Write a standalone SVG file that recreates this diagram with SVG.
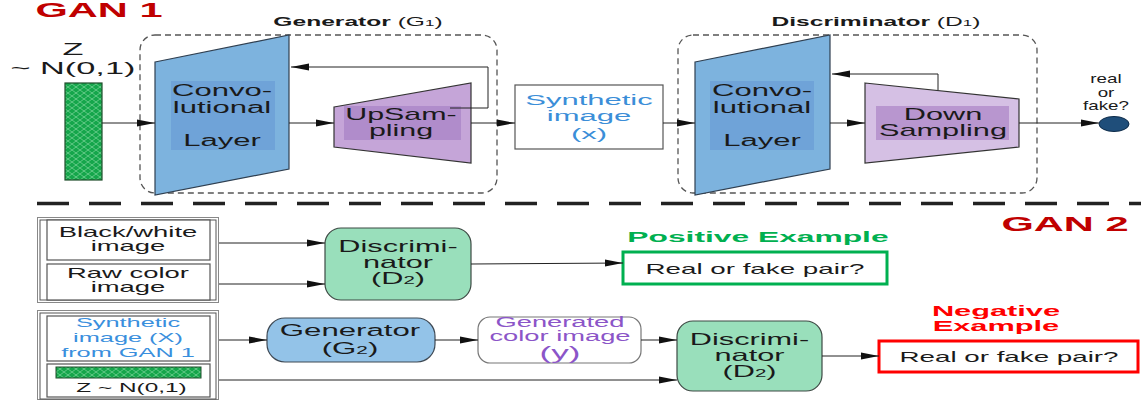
<svg xmlns="http://www.w3.org/2000/svg" width="1141" height="400" viewBox="0 0 1141 400">
<defs>
<style>
text{font-family:"Liberation Sans",Arial,sans-serif;fill:#1a1a1a;text-anchor:middle}
.b{font-weight:bold}
.title{font-size:20px;font-weight:bold;fill:#c00000}
.lbl{font-size:16px}
.sm{font-size:14px}
.dash{fill:none;stroke:#555;stroke-width:1.3;stroke-dasharray:6 4}
.conv{fill:#7db3de;stroke:#2f3f50;stroke-width:1.2}
.convin{fill:#6fa3d8}
.box{fill:#fff;stroke:#555;stroke-width:1.2}
.disc{fill:#99dfbb;stroke:#3d4a44;stroke-width:1.2}
.wire{fill:none;stroke:#222;stroke-width:1;marker-end:url(#ah)}
</style>
<marker id="ah" markerUnits="userSpaceOnUse" markerWidth="18" markerHeight="8" refX="18" refY="4" orient="auto">
<path d="M0,0.5 L18,4 L0,7.5 Z" fill="#111"/>
</marker>
<pattern id="mesh" width="8" height="6" patternUnits="userSpaceOnUse">
<rect width="8" height="6" fill="#15a64b"/>
<path d="M0,0 L8,6 M0,6 L8,0" stroke="#b9efc9" stroke-width="0.6" opacity="0.75"/>
</pattern>
</defs>

<!-- titles -->
<g id="title-gan1"><g transform="matrix(2.08 0 0 1 -106.9 0)"><text x="99" y="17" class="title">GAN 1</text></g></g>
<g id="title-gan2"><g transform="matrix(2.08 0 0 1 -1150.2 0)"><text x="1065" y="231" class="title">GAN 2</text></g></g>

<!-- dashed group boxes -->
<g id="generator-g1">
<rect x="140" y="35" width="357" height="158" rx="15" class="dash"/>
<g transform="matrix(2 0 0 1 -358 0)"><text x="358" y="26" style="font-size:12.3px"><tspan class="b">Generator</tspan> (G<tspan style="font-size:8.5px">1</tspan>)</text></g>
</g>
<g id="discriminator-d1">
<rect x="678" y="35" width="359" height="158" rx="15" class="dash"/>
<g transform="matrix(2 0 0 1 -876 0)"><text x="876" y="26" style="font-size:12.3px"><tspan class="b">Discriminator</tspan> (D<tspan style="font-size:8.5px">1</tspan>)</text></g>
</g>

<!-- noise input -->
<g id="noise-z">
<g transform="matrix(2.02 0 0 1 -74.5 0)">
<text x="73" y="55" style="font-size:17px">Z</text>
<text x="73" y="74" style="font-size:17px">~ N(0,1)</text>
</g>
<rect x="65" y="83" width="37" height="97" fill="url(#mesh)" stroke="#1e4d2b" stroke-width="1.2"/>
</g>

<!-- G1 conv layer -->
<g id="g1-conv">
<polygon points="155,62 289,35 289,169 155,195" class="conv"/>
<rect x="171" y="81" width="104" height="69" class="convin"/>
<g transform="matrix(1.94 0 0 1 -208.68 0)">
<text x="222" y="96" class="lbl">Convo-</text>
<text x="222" y="113" class="lbl">lutional</text>
<text x="222" y="146" class="lbl">Layer</text>
</g>
</g>

<!-- G1 upsampling -->
<g id="g1-upsampling">
<polygon points="334,107 471,83 471,163 334,147" fill="#c5a5d8" stroke="#333" stroke-width="1.2"/>
<rect x="344" y="106" width="117" height="34" fill="#b08ccb"/>
<g transform="matrix(1.9 0 0 1 -360.9 0)">
<text x="401" y="120" class="lbl">UpSam-</text>
<text x="401" y="136" class="lbl">pling</text>
</g>
</g>

<!-- synthetic image -->
<g id="synthetic-image">
<rect x="515" y="85" width="148" height="64" class="box"/>
<g transform="matrix(2 0 0 1 -589 0)" style="font-size:15.5px">
<text x="589" y="105" style="fill:#3b8ed8">Synthetic</text>
<text x="589" y="121" style="fill:#3b8ed8">image</text>
<text x="589" y="139" style="fill:#3b8ed8">(x)</text>
</g>
</g>

<!-- D1 conv layer -->
<g id="d1-conv">
<polygon points="695,62 830,35 830,169 695,195" class="conv"/>
<rect x="710" y="81" width="104" height="69" class="convin"/>
<g transform="matrix(1.94 0 0 1 -716.28 0)">
<text x="762" y="96" class="lbl">Convo-</text>
<text x="762" y="113" class="lbl">lutional</text>
<text x="762" y="146" class="lbl">Layer</text>
</g>
</g>

<!-- D1 downsampling -->
<g id="d1-downsampling">
<polygon points="865,83 1019,99 1019,147 865,163" fill="#d5c0e4" stroke="#333" stroke-width="1.2"/>
<rect x="876" y="106" width="133" height="34" fill="#b896cf"/>
<g transform="matrix(1.92 0 0 1 -867.56 0)">
<text x="943" y="120" class="lbl">Down</text>
<text x="943" y="136" class="lbl">Sampling</text>
</g>
</g>

<!-- output -->
<g id="output-real-fake">
<ellipse cx="1114" cy="124" rx="15" ry="7.5" fill="#1f4e7a" stroke="#0c2a48" stroke-width="1"/>
<g transform="matrix(1.5 0 0 1 -553 0)" style="font-size:12.5px">
<text x="1106" y="83">real</text>
<text x="1106" y="97">or</text>
<text x="1106" y="110">fake?</text>
</g>
</g>

<!-- separator -->
<g id="separator">
<path d="M37,203.5 H1141" stroke="#222" stroke-width="3.5" stroke-dasharray="32 20" fill="none"/>
</g>

<!-- GAN2 positive input pair -->
<g id="input-pair-positive">
<rect x="37.5" y="217.5" width="181" height="85" fill="#fff" stroke="#888" stroke-width="1"/>
<rect x="40" y="220" width="176" height="80" fill="none" stroke="#555" stroke-width="1"/>
<rect x="47" y="220" width="163" height="40" class="box"/>
<rect x="47" y="264" width="163" height="36" class="box"/>
<g transform="matrix(1.96 0 0 1 -122.88 0)">
<text x="128" y="237" class="sm">Black/white</text>
<text x="128" y="251" class="sm">image</text>
<text x="128" y="278" class="sm">Raw color</text>
<text x="128" y="292" class="sm">image</text>
</g>
</g>

<g id="discriminator-d2-positive">
<rect x="325" y="228" width="146" height="72" rx="16" class="disc"/>
<g transform="matrix(1.86 0 0 1 -342.28 0)" style="font-size:16.5px">
<text x="398" y="252">Discrimi-</text>
<text x="398" y="268">nator</text>
<text x="398" y="284">(D<tspan style="font-size:11px">2</tspan>)</text>
</g>
</g>

<g id="positive-result">
<g transform="matrix(2.05 0 0 1 -797.95 0)"><text x="759" y="242" class="b" style="font-size:15.5px;fill:#00b050">Positive Example</text></g>
<rect x="623" y="252" width="264" height="32" fill="#fff" stroke="#00b050" stroke-width="3"/>
<g transform="matrix(1.85 0 0 1 -641.75 0)"><text x="755" y="274" style="font-size:15px">Real or fake pair?</text></g>
</g>

<!-- GAN2 negative input pair -->
<g id="input-pair-negative">
<rect x="37.5" y="310.5" width="181" height="89" fill="#fff" stroke="#888" stroke-width="1"/>
<rect x="40" y="313" width="176" height="86" fill="none" stroke="#555" stroke-width="1"/>
<rect x="47" y="316" width="163" height="45" class="box"/>
<rect x="47" y="364" width="163" height="33" class="box"/>
<g transform="matrix(1.95 0 0 1 -121.6 0)" style="font-size:13px">
<text x="128" y="327" style="fill:#3a8fdd">Synthetic</text>
<text x="128" y="342" style="fill:#3a8fdd">image (X)</text>
<text x="128" y="357" style="fill:#3a8fdd">from GAN 1</text>
</g>
<rect x="56" y="367" width="145" height="11" fill="url(#mesh)" stroke="#1e4d2b" stroke-width="1"/>
<g transform="matrix(1.95 0 0 1 -124.9 0)"><text x="131.5" y="392" style="font-size:12.5px">Z ~ N(0,1)</text></g>
</g>

<g id="generator-g2">
<rect x="267" y="318" width="168" height="44" rx="18" fill="#93c3e8" stroke="#3f4a55" stroke-width="1.2"/>
<g transform="matrix(1.89 0 0 1 -311.5 0)" style="font-size:16.5px">
<text x="350" y="336">Generator</text>
<text x="350" y="354">(G<tspan style="font-size:11px">2</tspan>)</text>
</g>
</g>

<g id="generated-color-image">
<rect x="478" y="317" width="163" height="46" rx="12" fill="#fff" stroke="#777" stroke-width="1.2"/>
<g transform="matrix(1.95 0 0 1 -532 0)">
<text x="560" y="327" style="font-size:14px;fill:#8b55c8">Generated</text>
<text x="560" y="341" style="font-size:14px;fill:#8b55c8">color image</text>
<text x="560" y="359" style="font-size:18px;fill:#8b55c8">(y)</text>
</g>
</g>

<g id="discriminator-d2-negative">
<rect x="677" y="321" width="145" height="70" rx="16" class="disc"/>
<g transform="matrix(1.86 0 0 1 -644.57 0)" style="font-size:16.5px">
<text x="749.5" y="345">Discrimi-</text>
<text x="749.5" y="361">nator</text>
<text x="749.5" y="377">(D<tspan style="font-size:11px">2</tspan>)</text>
</g>
</g>

<g id="negative-result">
<g transform="matrix(2.05 0 0 1 -1045.8 0)" style="font-size:15px">
<text x="996" y="316" class="b" style="fill:#ff0000">Negative</text>
<text x="996" y="331" class="b" style="fill:#ff0000">Example</text>
</g>
<rect x="879" y="341" width="259" height="31" fill="#fff" stroke="#ff0000" stroke-width="3"/>
<g transform="matrix(1.85 0 0 1 -857.65 0)"><text x="1009" y="362" style="font-size:15px">Real or fake pair?</text></g>
</g>

<!-- connectors -->
<g id="connectors">
<path class="wire" d="M102,123 H155"/>
<path class="wire" d="M289,123 H334"/>
<path class="wire" d="M450,108 H488 V67 H291"/>
<path class="wire" d="M471,123 H515"/>
<path class="wire" d="M663,123 H695"/>
<path class="wire" d="M830,123 H865"/>
<path class="wire" d="M938,90 V74 H832"/>
<path class="wire" d="M1019,123 H1099"/>
<path class="wire" d="M219,243 H325"/>
<path class="wire" d="M219,284 H325"/>
<path class="wire" d="M471,264 L623,263"/>
<path class="wire" d="M219,340 H267"/>
<path class="wire" d="M435,340 H478"/>
<path class="wire" d="M641,340 H677"/>
<path class="wire" d="M219,380 H677"/>
<path class="wire" d="M822,356 H879"/>
</g>
</svg>
